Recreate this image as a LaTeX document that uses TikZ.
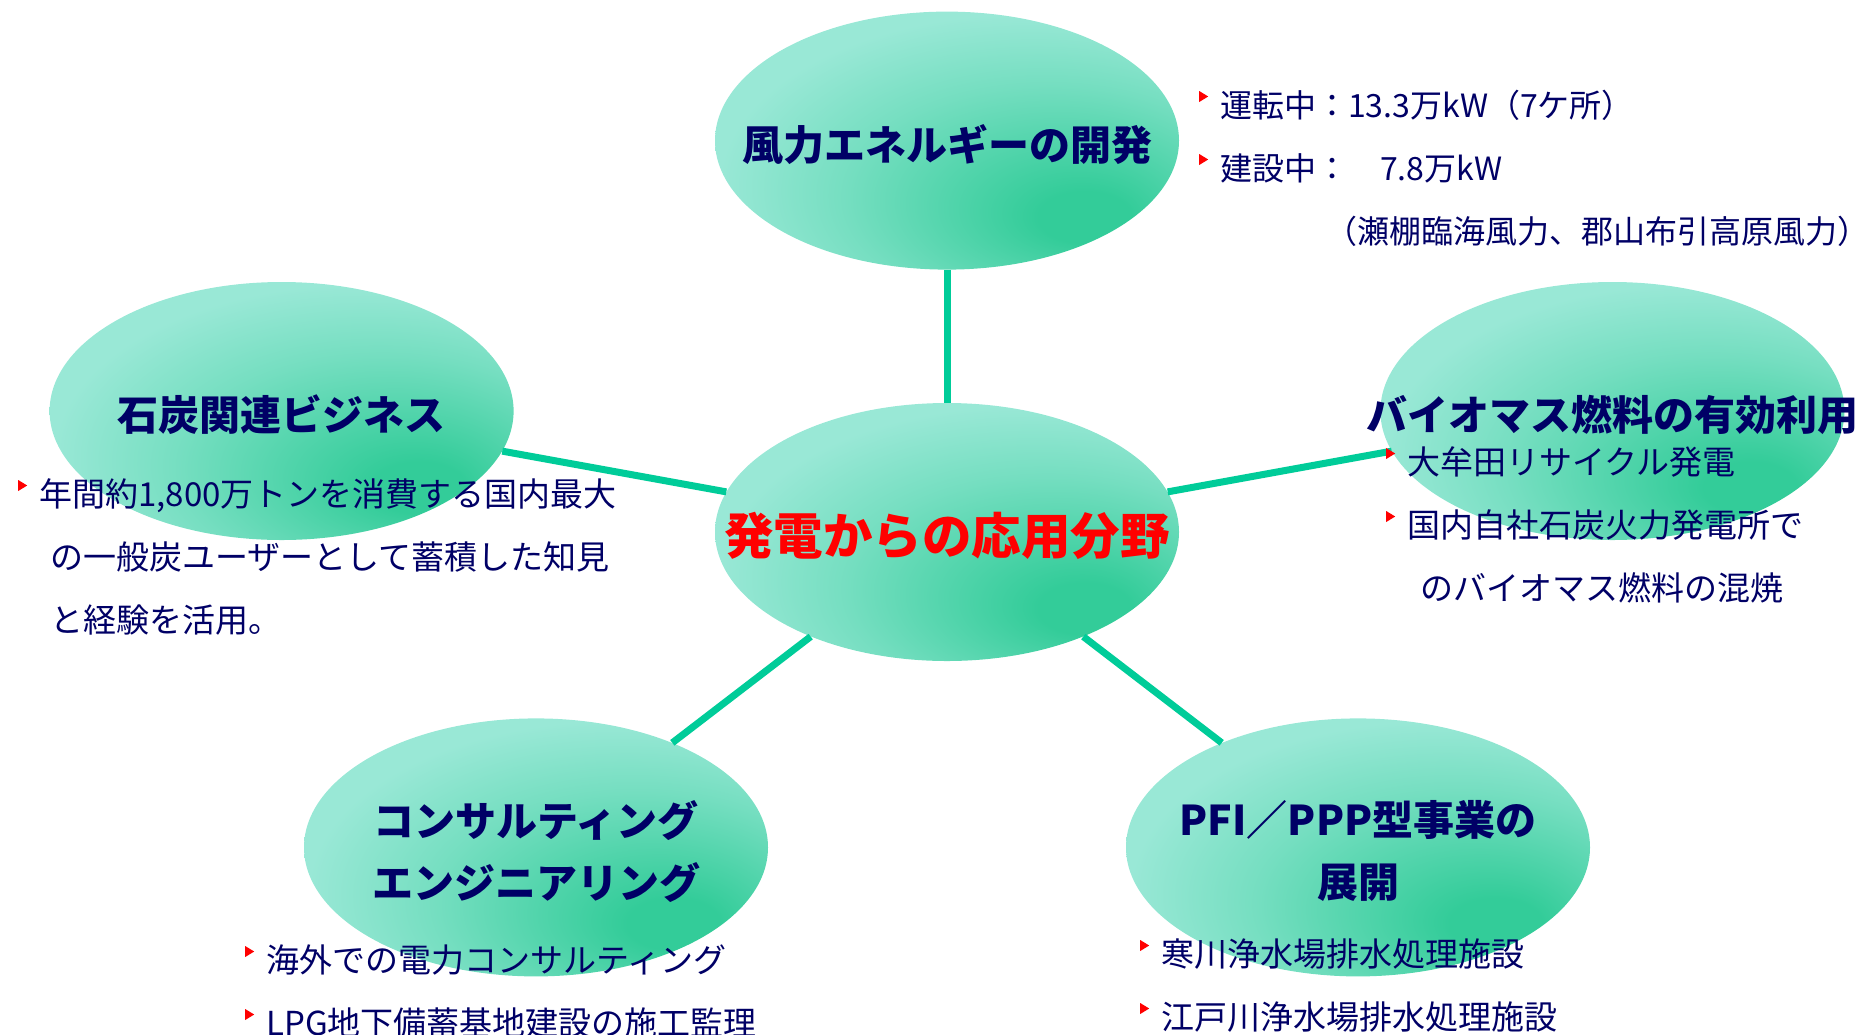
\documentclass[tikz,border=0pt]{standalone}
\usepackage{fontspec}
\setmainfont{Noto Sans CJK JP}
\usetikzlibrary{shapes.geometric,positioning}

\definecolor{navy}{RGB}{0,0,102}
\definecolor{bulred}{RGB}{255,0,0}
\definecolor{linkgreen}{RGB}{0,204,153}
\definecolor{bubdark}{RGB}{51,204,153}
\definecolor{bublight}{RGB}{153,232,214}
\pgfdeclareradialshading{bubblefill}{\pgfpoint{16bp}{-16bp}}{%
  color(0bp)=(bubdark); color(5bp)=(bubdark);
  color(22bp)=(bubdark!35!bublight); color(33bp)=(bublight);
  color(70bp)=(bublight)}

\newcommand{\bul}{\makebox[21pt][l]{\tikz[baseline=0pt]\fill[bulred] (0pt,15pt) -- (9pt,20.5pt) -- (0pt,26pt) -- cycle;}}

\tikzset{
  bubble/.style={ellipse, shade, shading=bubblefill, draw=none,
    minimum width=464pt, minimum height=258pt, inner sep=0pt},
  title/.style={font=\fontsize{41pt}{62pt}\selectfont\bfseries, text=navy,
    align=center, inner sep=0pt, yshift=-4pt},
  note/.style={font=\fontsize{33pt}{63pt}\selectfont, text=navy,
    align=left, anchor=base west, inner sep=0pt},
  link/.style={draw=linkgreen, line width=7pt},
}

\begin{document}
\begin{tikzpicture}[x=1pt, y=-1pt]
    \useasboundingbox (0,0) rectangle (1858,1034);

    % Define nodes
    \node[bubble]                                   (hub)  at (947,532) {};
    \node[bubble, above=133pt of hub]               (wind) {};
    \node[bubble, left=201pt of hub, yshift=121pt]  (coal) {};
    \node[bubble, right=201pt of hub, yshift=121pt] (bio)  {};
    \node[bubble, below=57pt of hub, xshift=-411pt] (cons) {};
    \node[bubble, below=57pt of hub, xshift=411pt]  (pfi)  {};

    % Connect the nodes
    \foreach \n in {wind,coal,bio,cons,pfi}
      \draw[link] (\n) -- (hub);

    % Titles
    \node[title, font=\fontsize{49.5pt}{60pt}\selectfont\bfseries, text=bulred]
      (hubt) at (hub) {発電からの応用分野};
    \node[title] (windt) at (wind) {風力エネルギーの開発};
    \node[title] (coalt) at (coal) {石炭関連ビジネス};
    \node[title] (biot)  at (bio)  {バイオマス燃料の有効利用};
    \node[title] (const) at (cons) {コンサルティング\\エンジニアリング};
    \node[title] (pfit)  at (pfi)  {PFI／PPP型事業の\\展開};

    % Notes (anchored at the baseline of the last line)
    \node[note, font=\fontsize{32pt}{63pt}\selectfont] (windn) at (1199,243)
      {\bul 運転中：13.3万kW（7ケ所）\\
       \bul 建設中：　7.8万kW\\
       \hspace*{126pt}（瀬棚臨海風力、郡山布引高原風力）};
    \node[note] (coaln) at (18,632)
      {\bul 年間約1,800万トンを消費する国内最大\\
       \hspace*{32pt}の一般炭ユーザーとして蓄積した知見\\
       \hspace*{32pt}と経験を活用。};
    \node[note] (bion) at (1386,600)
      {\bul 大牟田リサイクル発電\\
       \bul 国内自社石炭火力発電所で\\
       \hspace*{34pt}のバイオマス燃料の混焼};
    \node[note] (consn) at (245,1035)
      {\bul 海外での電力コンサルティング\\
       \bul LPG地下備蓄基地建設の施工監理};
    \node[note] (pfin) at (1140,1029)
      {\bul 寒川浄水場排水処理施設\\
       \bul 江戸川浄水場排水処理施設};

\end{tikzpicture}
\end{document}
